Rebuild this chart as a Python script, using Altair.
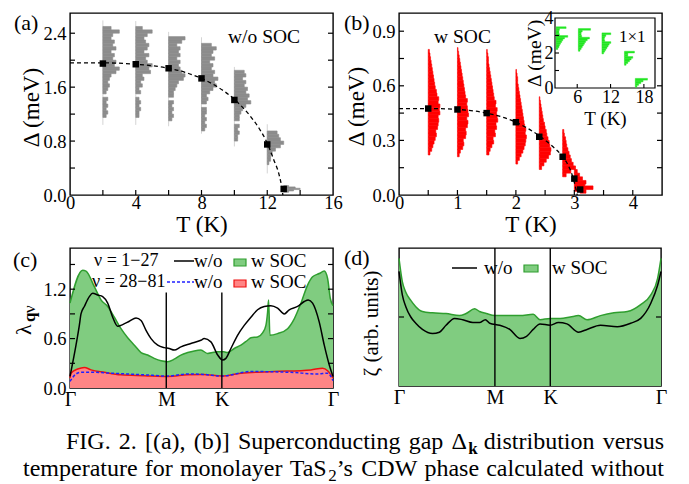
import altair as alt
import pandas as pd

FONT = "Liberation Serif"

# ===================== panel (a): w/o SOC =====================
a_T = [2, 4, 6, 8, 10, 12, 13]
a_gap = [1.95, 1.94, 1.88, 1.73, 1.41, 0.75, 0.09]
a_curve_T = [0, 2, 4, 6, 7, 8, 9, 10, 11, 11.5, 12, 12.4, 12.7, 12.85, 12.95]
a_curve_D = [1.96, 1.96, 1.94, 1.88, 1.82, 1.73, 1.60, 1.42, 1.16, 0.99, 0.77, 0.52, 0.32, 0.16, 0.0]
a_rng_T = [2, 4, 6, 8, 10, 12]
a_rng_lo = [1.04, 1.04, 1.02, 0.91, 0.72, 0.32]
a_rng_hi = [2.59, 2.58, 2.42, 2.34, 1.90, 1.05]
a_hist_lo = [1.15, 1.15, 1.10, 0.95, 0.80, 0.45, 0.04]
a_hist_bin = [0.05, 0.05, 0.05, 0.05, 0.05, 0.05, 0.02]
a_hist_w = [  # widths in 0.1 K
    [2, 3, 2, 3, 2, 3, 0, 2, 3, 4, 3, 4, 5, 8, 10, 7, 8, 6, 7, 5, 8, 6, 7, 5, 6, 10, 5],
    [2, 2, 3, 2, 3, 2, 0, 3, 2, 4, 3, 5, 4, 9, 8, 10, 7, 6, 8, 5, 7, 8, 6, 5, 7, 10, 4],
    [2, 3, 2, 3, 2, 3, 0, 3, 3, 4, 5, 6, 9, 10, 8, 7, 6, 7, 5, 7, 6, 7, 5, 8, 10],
    [2, 3, 2, 3, 2, 3, 3, 0, 3, 4, 3, 5, 7, 9, 8, 10, 7, 8, 6, 7, 5, 8, 6, 7, 9, 6],
    [2, 2, 3, 2, 3, 0, 3, 3, 4, 5, 7, 10, 8, 9, 7, 8, 6, 7, 5, 7, 6],
    [1, 2, 2, 3, 5, 8, 10, 8, 7, 6],
    [3, 6, 10, 7, 3],
]
a_xlabels = [0, 4, 8, 12, 16]
a_xticks = [2, 4, 6, 8, 10, 12, 14]
a_ylabels = [0.0, 0.8, 1.6, 2.4]
a_yticks = [0.4, 0.8, 1.2, 1.6, 2.0, 2.4]

# ===================== panel (b): w SOC =====================
b_T = [0.5, 1.0, 1.5, 2.0, 2.4, 2.8, 3.0, 3.1]
b_gap = [0.475, 0.47, 0.45, 0.40, 0.32, 0.21, 0.09, 0.03]
b_curve_T = [0, 0.5, 1.0, 1.5, 2.0, 2.4, 2.6, 2.8, 2.9, 3.0, 3.05]
b_curve_D = [0.475, 0.475, 0.47, 0.45, 0.40, 0.325, 0.275, 0.21, 0.16, 0.07, 0.0]
b_hist_lo = [0.22, 0.21, 0.22, 0.17, 0.14, 0.10, 0.02, 0.01]
b_hist_bin = [0.02] * 8
b_hist_w = [  # widths in 0.01 K
    [3, 6, 8, 10, 12, 14, 13, 16, 17, 18, 17, 20, 19, 20, 17, 18, 15, 14, 12, 11, 10, 9, 8, 7, 6, 5, 4, 3, 2],
    [3, 5, 9, 11, 10, 14, 15, 14, 17, 18, 16, 19, 18, 17, 16, 17, 14, 13, 12, 11, 10, 9, 8, 7, 6, 5, 4, 3, 2, 1],
    [4, 6, 9, 12, 11, 15, 14, 17, 16, 19, 18, 17, 18, 15, 16, 13, 12, 11, 10, 9, 8, 7, 6, 5, 4, 3, 3, 2, 1],
    [3, 6, 9, 12, 14, 16, 17, 18, 16, 17, 15, 14, 13, 12, 11, 10, 9, 8, 7, 6, 5, 4, 3, 3, 2, 1],
    [4, 8, 12, 16, 19, 20, 18, 17, 15, 13, 12, 10, 9, 7, 6, 5, 4, 3, 2, 1],
    [6, 14, 20, 18, 15, 13, 11, 9, 7, 6, 5, 3, 2],
    [8, 16, 20, 14, 9, 5, 2],
    [10, 22, 8],
]
b_xlabels = [0, 1, 2, 3, 4]
b_xticks = [0.5, 1, 1.5, 2, 2.5, 3, 3.5, 4]
b_ylabels = [0.0, 0.3, 0.6, 0.9]
b_yticks = [0.15, 0.3, 0.45, 0.6, 0.75, 0.9]

# inset (1x1)
in_T = [2.2, 6.2, 10.45, 14.5, 16.45]
in_lo = [2.2, 2.1, 1.95, 1.3, 0.05]
in_bin = [0.1, 0.1, 0.1, 0.1, 0.1]
in_w = [  # widths in K
    [0.3, 0.5, 0.6, 0.8, 1.0, 1.2, 1.5, 2.1, 0.6, 0.5, 0.5, 0.6, 1.8],
    [0.3, 0.5, 0.7, 0.9, 1.1, 1.3, 1.6, 2.0, 0.6, 0.5, 0.5, 0.7, 2.2],
    [0.3, 0.5, 0.7, 0.9, 1.1, 1.3, 1.6, 0.5, 0.4, 0.5, 0.7, 1.6],
    [0.3, 0.6, 0.9, 1.2, 1.5, 0.6, 0.6, 1.8],
    [0.3, 0.6, 1.0, 1.4, 2.2],
]
in_xlabels = [6, 12, 18]
in_ylabels = [0, 2, 4]
in_yticks = [1, 2, 3]

# ===================== panel (c): lambda_qv =====================
path_pos = [0.0, 0.5774, 0.9107, 1.5774]
path_lab = ["Γ", "M", "K", "Γ"]
c_gs = [0, 0.076, 0.096, 0.146, 0.186, 0.226, 0.266, 0.306, 0.346, 0.386, 0.426, 0.466, 0.505, 0.546, 0.586,
        0.625, 0.665, 0.706, 0.745, 0.785, 0.825, 0.886, 0.923, 0.945, 0.985, 1.025, 1.065, 1.085, 1.125, 1.155,
        1.175, 1.185, 1.191, 1.199, 1.245, 1.305, 1.345, 1.385, 1.425, 1.455, 1.495, 1.525, 1.545, 1.561, 1.5774]
c_gv = [1.03, 1.43, 1.42, 1.23, 1.07, 0.99, 0.86, 0.72, 0.61, 0.52, 0.43, 0.40, 0.36, 0.33, 0.32,
        0.35, 0.40, 0.43, 0.45, 0.46, 0.42, 0.44, 0.44, 0.43, 0.48, 0.52, 0.58, 0.61, 0.62, 0.67,
        0.76, 0.92, 1.07, 0.64, 0.66, 0.72, 0.84, 1.03, 1.25, 1.35, 1.39, 1.42, 1.33, 1.09, 1.0]
c_bs = [0, 0.036, 0.056, 0.066, 0.086, 0.116, 0.136, 0.166, 0.196, 0.226, 0.256, 0.286, 0.316, 0.356, 0.396,
        0.426, 0.456, 0.486, 0.526, 0.565, 0.595, 0.625, 0.665, 0.725, 0.785, 0.805, 0.845, 0.886, 0.915, 0.935,
        0.965, 1.005, 1.045, 1.085, 1.125, 1.165, 1.205, 1.245, 1.285, 1.315, 1.365, 1.405, 1.429, 1.455, 1.495,
        1.525, 1.555, 1.5774]
c_bv = [0.14, 0.52, 0.76, 0.90, 0.99, 1.11, 1.15, 1.13, 1.11, 1.03, 0.86, 0.75, 0.77, 0.81, 0.85,
        0.82, 0.70, 0.60, 0.52, 0.49, 0.48, 0.46, 0.50, 0.54, 0.58, 0.60, 0.56, 0.40, 0.34, 0.36,
        0.48, 0.64, 0.76, 0.86, 0.95, 0.99, 1.0, 0.97, 0.90, 0.95, 0.99, 1.05, 1.07, 1.03, 0.80,
        0.52, 0.28, 0.14]
c_rs = [0, 0.006, 0.046, 0.086, 0.126, 0.206, 0.306, 0.446, 0.586, 0.706, 0.80, 0.911, 1.025, 1.225, 1.445,
        1.515, 1.545, 1.5774]
c_rv = [0.12, 0.18, 0.23, 0.25, 0.22, 0.19, 0.16, 0.15, 0.14, 0.16, 0.165, 0.145, 0.18, 0.20, 0.22,
        0.24, 0.21, 0.12]
c_us = [0, 0.036, 0.066, 0.146, 0.246, 0.446, 0.586, 0.706, 0.80, 0.911, 1.085, 1.325, 1.485, 1.545, 1.5774]
c_uv = [0.08, 0.17, 0.19, 0.19, 0.18, 0.16, 0.145, 0.17, 0.165, 0.145, 0.20, 0.19, 0.17, 0.18, 0.09]
c_ylabels = [0.0, 0.6, 1.2]
c_yticks = [0.3, 0.6, 0.9, 1.2, 1.5]
c_line_top = 1.16

# ===================== panel (d): zeta =====================
d_gs = [0, 0.020, 0.041, 0.071, 0.101, 0.141, 0.202, 0.283, 0.364, 0.404, 0.455, 0.485, 0.526, 0.576, 0.647,
        0.728, 0.808, 0.849, 0.910, 0.970, 1.031, 1.081, 1.132, 1.213, 1.294, 1.375, 1.455, 1.516, 1.557, 1.5774]
d_gv = [0.925, 0.756, 0.68, 0.62, 0.575, 0.54, 0.53, 0.525, 0.51, 0.525, 0.56, 0.54, 0.525, 0.51, 0.51,
        0.51, 0.52, 0.48, 0.49, 0.49, 0.50, 0.51, 0.48, 0.51, 0.53, 0.54, 0.59, 0.66, 0.78, 0.925]
d_bs = [0, 0.020, 0.041, 0.071, 0.101, 0.141, 0.202, 0.243, 0.283, 0.334, 0.384, 0.445, 0.485, 0.520, 0.546,
        0.606, 0.667, 0.728, 0.768, 0.808, 0.849, 0.910, 0.960, 1.011, 1.081, 1.132, 1.213, 1.314, 1.395, 1.455,
        1.516, 1.557, 1.5774]
d_bv = [0.83, 0.66, 0.575, 0.50, 0.455, 0.41, 0.38, 0.39, 0.44, 0.49, 0.48, 0.46, 0.46, 0.48, 0.455,
        0.44, 0.41, 0.345, 0.36, 0.41, 0.45, 0.44, 0.46, 0.45, 0.39, 0.41, 0.44, 0.43, 0.455, 0.49,
        0.60, 0.73, 0.83]
d_yticks = [0.5]

# ===================== caption =====================
cap1_words = [["FIG."], ["2."], ["[(a),"], ["(b)]"], ["Superconducting"], ["gap"], ["Δ", "_bk"],
              ["distribution"], ["versus"]]
cap2_words = [["temperature"], ["for"], ["monolayer"], ["TaS", "_2", "’s"], ["CDW"], ["phase"],
              ["calculated"], ["without"]]

# ---------------------------------------------------------------
CW = {' ': 250, 'F': 556, 'I': 333, 'G': 722, '.': 250, '2': 500, '[': 333, '(': 333, 'a': 444, ')': 333,
      ',': 250, 'b': 500, ']': 333, 'S': 556, 'u': 500, 'p': 500, 'e': 444, 'r': 333, 'c': 444, 'o': 500,
      'n': 500, 'd': 500, 't': 278, 'i': 278, 'g': 500, 'Δ': 612, 'k': 556, 's': 389, 'v': 500, 'm': 778,
      'f': 333, 'l': 278, 'y': 500, 'T': 611, '’': 333, 'C': 667, 'D': 722, 'W': 944, 'h': 500, 'w': 722}
FS_CAP, FS_SUB = 24, 17


def seg_info(seg):
    if seg.startswith("_b"):
        return seg[2:], FS_SUB, "sb"
    if seg.startswith("_"):
        return seg[1:], FS_SUB, "s"
    return seg, FS_CAP, "n"


def tw(t, size):
    return sum(CW.get(ch, 500) for ch in t) * size / 1000.0


def layout_line(words, left, right, base, ox, oy):
    widths = []
    for w in words:
        widths.append(sum(tw(*seg_info(s)[:2]) for s in w))
    gap = (right - left - sum(widths)) / (len(words) - 1)
    rows = []
    x = left
    for w, wd in zip(words, widths):
        xx = x
        for s in w:
            t, size, kind = seg_info(s)
            dy = 5 if kind != "n" else 0
            rows.append({"px": xx - ox, "py": base + dy - oy, "t": t, "kind": kind})
            xx += tw(t, size) + (2 if kind == "n" and t == "Δ" else 0)
        x += wd + gap
    return rows


def hist_df(Ts, los, bins, widths, unit):
    rows = []
    for T, lo, b, ws in zip(Ts, los, bins, widths):
        for j, w in enumerate(ws):
            if w <= 0:
                continue
            rows.append({"T": T, "xe": T + w * unit, "y0": lo + j * b, "y1": lo + (j + 1) * b})
    return pd.DataFrame(rows)


def ticks_y(vals, scale, axis, w, L=5):
    df = pd.DataFrame({"v": vals})
    out = []
    for x1, x2 in [(0, L), (w - L, w)]:
        out.append(alt.Chart(df).mark_rule(color="black", strokeWidth=1.2).encode(
            y=alt.Y("v:Q", scale=scale, axis=axis), x=alt.value(x1), x2=alt.value(x2)))
    return out


def ticks_x(vals, scale, axis, h, L=5):
    df = pd.DataFrame({"v": vals})
    return alt.Chart(df).mark_rule(color="black", strokeWidth=1.2).encode(
        x=alt.X("v:Q", scale=scale, axis=axis), y=alt.value(h - L), y2=alt.value(h))


def txt(t, x, y, size, align="left", baseline="middle", **kw):
    return alt.Chart(pd.DataFrame({"t": [t]})).mark_text(
        text=t, fontSize=size, align=align, baseline=baseline, font=FONT, color="black", **kw
    ).encode(x=alt.value(x), y=alt.value(y))


def hbar(x1, x2, y, color="black", dash=None, sw=1.5):
    kw = {"strokeDash": dash} if dash else {}
    return alt.Chart(pd.DataFrame({"z": [0]})).mark_rule(color=color, strokeWidth=sw, **kw).encode(
        x=alt.value(x1), x2=alt.value(x2), y=alt.value(y))


def box(x1, x2, y1, y2, fill, stroke):
    return alt.Chart(pd.DataFrame({"z": [0]})).mark_rect(fill=fill, stroke=stroke, strokeWidth=1.2).encode(
        x=alt.value(x1), x2=alt.value(x2), y=alt.value(y1), y2=alt.value(y2))


W1, H1 = 263, 182
W2, H2 = 263, 140

# ------------------------- (a) -------------------------
xa = alt.Scale(domain=[0, 16], nice=False, zero=False)
ya = alt.Scale(domain=[0, 2.7], nice=False, zero=False)
axa_x = alt.Axis(values=a_xlabels, format="d", title="T (K)", labelPadding=-2, labelFlush=False,
                 titleX=W1 / 2, titleY=29, titleBaseline="middle", titleAlign="center")
axa_y = alt.Axis(values=a_ylabels, format=".1f", title="Δ (meV)", labelPadding=4,
                 titleX=-39, titleY=94, titleBaseline="middle", titleAlign="center", titleAngle=270)
df_a_rng = pd.DataFrame({"T": a_rng_T, "lo": a_rng_lo, "hi": a_rng_hi})
df_a_hist = hist_df(a_T, a_hist_lo, a_hist_bin, a_hist_w, 0.1)
df_a_curve = pd.DataFrame({"T": a_curve_T, "D": a_curve_D})
df_a_pts = pd.DataFrame({"T": a_T, "D": a_gap})

a_layers = [
    alt.Chart(pd.DataFrame({"z": [0]})).mark_rule(color="white").encode(
        x=alt.value(-60.5), x2=alt.value(-60.5), y=alt.value(0), y2=alt.value(2)),
    alt.Chart(df_a_rng).mark_rule(color="#d4d4d4", strokeWidth=1).encode(
        x=alt.X("T:Q", scale=xa, axis=axa_x), y=alt.Y("lo:Q", scale=ya, axis=axa_y), y2="hi:Q"),
    alt.Chart(df_a_hist).mark_rect(color="#8c8c8c", stroke="#8c8c8c", strokeWidth=0.6).encode(
        x=alt.X("T:Q", scale=xa, axis=axa_x), x2="xe:Q", y=alt.Y("y0:Q", scale=ya, axis=axa_y), y2="y1:Q"),
    alt.Chart(df_a_curve).mark_line(color="black", strokeDash=[4, 3], strokeWidth=1.3, interpolate="monotone").encode(
        x=alt.X("T:Q", scale=xa, axis=axa_x), y=alt.Y("D:Q", scale=ya, axis=axa_y)),
    alt.Chart(df_a_pts).mark_square(size=42, color="black", opacity=1).encode(
        x=alt.X("T:Q", scale=xa, axis=axa_x), y=alt.Y("D:Q", scale=ya, axis=axa_y)),
    *ticks_y(a_yticks, ya, axa_y, W1),
    ticks_x(a_xticks, xa, axa_x, H1),
    txt("(a)", -56, 0, 22, baseline="top"),
    txt("w/o SOC", 158, 24, 19.5),
]
panel_a = alt.layer(*a_layers).properties(width=W1, height=H1)

# ------------------------- (b) -------------------------
xb = alt.Scale(domain=[0, 4.5], nice=False, zero=False)
yb = alt.Scale(domain=[0, 1.0], nice=False, zero=False)
axb_x = alt.Axis(values=b_xlabels, format="d", title="T (K)", labelPadding=-2, labelFlush=False,
                 titleX=W1 / 2, titleY=29, titleBaseline="middle", titleAlign="center")
axb_y = alt.Axis(values=b_ylabels, format=".1f", title="Δ (meV)", labelPadding=4,
                 titleX=-43, titleY=93, titleBaseline="middle", titleAlign="center", titleAngle=270)
df_b_hist = hist_df(b_T, b_hist_lo, b_hist_bin, b_hist_w, 0.01)
df_b_curve = pd.DataFrame({"T": b_curve_T, "D": b_curve_D})
df_b_pts = pd.DataFrame({"T": b_T, "D": b_gap})
b_main = alt.layer(
    alt.Chart(df_b_hist).mark_rect(color="#ff0000", stroke="#ff0000", strokeWidth=0.6).encode(
        x=alt.X("T:Q", scale=xb, axis=axb_x), x2="xe:Q", y=alt.Y("y0:Q", scale=yb, axis=axb_y), y2="y1:Q"),
    alt.Chart(df_b_curve).mark_line(color="black", strokeDash=[4, 3], strokeWidth=1.3, interpolate="monotone").encode(
        x=alt.X("T:Q", scale=xb, axis=axb_x), y=alt.Y("D:Q", scale=yb, axis=axb_y)),
    alt.Chart(df_b_pts).mark_square(size=42, color="black", opacity=1).encode(
        x=alt.X("T:Q", scale=xb, axis=axb_x), y=alt.Y("D:Q", scale=yb, axis=axb_y)),
    *ticks_y(b_yticks, yb, axb_y, W1),
    ticks_x(b_xticks, xb, axb_x, H1),
    txt("(b)", -55, 0, 22, baseline="top"),
    txt("w SOC", 35, 24, 19.5),
)

isx = alt.Scale(domain=[2, 20], range=[156, 256], nice=False, zero=False)
isy = alt.Scale(domain=[0, 4], range=[75, 5], nice=False, zero=False)
iax_x = alt.Axis(orient="bottom", offset=-(H1 - 75), values=in_xlabels, format="d", title="T (K)",
                 labelPadding=0, labelFlush=False, labelFontSize=18, titleFontSize=19,
                 titleX=206, titleY=30, titleBaseline="middle", titleAlign="center")
iax_y = alt.Axis(orient="left", offset=-156, values=in_ylabels, format="d", title="Δ (meV)",
                 labelPadding=2, labelFontSize=18, titleFontSize=19.5,
                 titleX=-21, titleY=40, titleBaseline="middle", titleAlign="center", titleAngle=270)
df_in_hist = hist_df(in_T, in_lo, in_bin, in_w, 1.0)
b_inset = alt.layer(
    alt.Chart(pd.DataFrame({"x0": [2], "x1": [20], "y0": [0], "y1": [4]})).mark_rect(
        fill="white", stroke="black", strokeWidth=1.2).encode(
        x=alt.X("x0:Q", scale=isx, axis=iax_x), x2="x1:Q", y=alt.Y("y0:Q", scale=isy, axis=iax_y), y2="y1:Q"),
    alt.Chart(df_in_hist).mark_rect(color="#22e622", stroke="#22e622", strokeWidth=0.4).encode(
        x=alt.X("T:Q", scale=isx, axis=iax_x), x2="xe:Q", y=alt.Y("y0:Q", scale=isy, axis=iax_y), y2="y1:Q"),
    alt.Chart(pd.DataFrame({"v": in_yticks})).mark_rule(color="black", strokeWidth=1.1).encode(
        y=alt.Y("v:Q", scale=isy, axis=iax_y), x=alt.value(156), x2=alt.value(160)),
    alt.Chart(pd.DataFrame({"v": in_xlabels})).mark_rule(color="black", strokeWidth=1.1).encode(
        x=alt.X("v:Q", scale=isx, axis=iax_x), y=alt.value(71), y2=alt.value(75)),
    txt("1×1", 220, 24, 17),
)
panel_b = alt.layer(b_main, b_inset).resolve_scale(x="independent", y="independent").properties(
    width=W1, height=H1)

# ------------------------- (c) -------------------------
def path_expr():
    expr = "'" + path_lab[-1] + "'"
    for pos, lab in reversed(list(zip(path_pos[:-1], path_lab[:-1]))):
        expr = f"datum.value < {pos + 0.05} ? '{lab}' : ({expr})"
    return expr


xc = alt.Scale(domain=[0, path_pos[-1]], nice=False, zero=False)
yc = alt.Scale(domain=[0, 1.7], nice=False, zero=False)
axc_x = alt.Axis(values=path_pos, labelExpr=path_expr(), title=None, labelPadding=1, labelFontSize=20,
                 labelFlush=False, labelOverlap=False)
axc_y = alt.Axis(values=c_ylabels, format=".1f", title=None, labelPadding=4)

cap_rows = layout_line(cap1_words, 65, 663, 444, 69, 243) + layout_line(cap2_words, 22, 663, 471, 69, 243)
df_cap = pd.DataFrame(cap_rows)


def cap_layer(kind, size, weight):
    return alt.Chart(df_cap[df_cap["kind"] == kind]).mark_text(
        fontSize=size, fontWeight=weight, align="left", baseline="alphabetic", font=FONT, color="black"
    ).encode(x=alt.X("px:Q", scale=None, axis=None), y=alt.Y("py:Q", scale=None, axis=None), text="t:N")


c_layers = [
    alt.Chart(pd.DataFrame({"s": c_gs, "v": c_gv})).mark_area(
        color="#80cc80", opacity=1, interpolate="monotone",
        line={"color": "#2f9e2f", "strokeWidth": 1.5}).encode(
        x=alt.X("s:Q", scale=xc, axis=axc_x), y=alt.Y("v:Q", scale=yc, axis=axc_y)),
    alt.Chart(pd.DataFrame({"s": c_rs, "v": c_rv})).mark_area(
        color="#ff8585", opacity=1, interpolate="monotone",
        line={"color": "#ee1111", "strokeWidth": 1.5}).encode(
        x=alt.X("s:Q", scale=xc, axis=axc_x), y=alt.Y("v:Q", scale=yc, axis=axc_y)),
    alt.Chart(pd.DataFrame({"s": c_bs, "v": c_bv})).mark_line(
        color="black", strokeWidth=1.5, interpolate="monotone").encode(
        x=alt.X("s:Q", scale=xc, axis=axc_x), y=alt.Y("v:Q", scale=yc, axis=axc_y)),
    alt.Chart(pd.DataFrame({"s": c_us, "v": c_uv})).mark_line(
        color="#2020ff", strokeWidth=1.5, strokeDash=[3, 2], interpolate="monotone").encode(
        x=alt.X("s:Q", scale=xc, axis=axc_x), y=alt.Y("v:Q", scale=yc, axis=axc_y)),
    alt.Chart(pd.DataFrame({"s": path_pos[1:3], "lo": [0, 0], "hi": [c_line_top] * 2})).mark_rule(
        color="black", strokeWidth=1.4).encode(
        x=alt.X("s:Q", scale=xc, axis=axc_x), y=alt.Y("lo:Q", scale=yc, axis=axc_y), y2="hi:Q"),
    *ticks_y(c_yticks, yc, axc_y, W2),
    txt("(c)", -57, 2, 22, baseline="top"),
    txt("λ", -39, 87, 22, baseline="alphabetic", angle=270),
    txt("q", -35, 74, 17, baseline="alphabetic", angle=270, fontWeight="bold"),
    txt("ν", -35, 65, 17, baseline="alphabetic", angle=270),
    txt("ν = 1−27", 24, 13, 18),
    hbar(104, 124, 13),
    txt("w/o", 124, 13, 19),
    box(164, 176, 11, 18, "#80cc80", "#2f9e2f"),
    txt("w SOC", 181, 13, 19),
    txt("ν = 28−81", 22, 34, 18),
    hbar(97, 124, 34, color="#2020ff", dash=[3, 2]),
    txt("w/o", 124, 34, 19),
    box(164, 176, 32, 39, "#ff8585", "#ee1111"),
    txt("w SOC", 181, 34, 19),
    cap_layer("n", FS_CAP, "normal"),
    cap_layer("s", FS_SUB, "normal"),
    cap_layer("sb", FS_SUB, "bold"),
]
panel_c = alt.layer(*c_layers).properties(width=W1, height=H2)

# ------------------------- (d) -------------------------
yd = alt.Scale(domain=[0, 1], nice=False, zero=False)
W4 = 262
H4 = 138
axd_y = alt.Axis(labels=False, title="ζ (arb. units)", titleFontSize=21,
                 titleX=-28, titleY=75, titleBaseline="middle", titleAlign="center", titleAngle=270)
d_layers = [
    alt.Chart(pd.DataFrame({"s": d_gs, "v": d_gv})).mark_area(
        color="#80cc80", opacity=1, interpolate="monotone",
        line={"color": "#2f9e2f", "strokeWidth": 1.5}).encode(
        x=alt.X("s:Q", scale=xc, axis=axc_x), y=alt.Y("v:Q", scale=yd, axis=axd_y)),
    alt.Chart(pd.DataFrame({"s": d_bs, "v": d_bv})).mark_line(
        color="black", strokeWidth=1.5, interpolate="monotone").encode(
        x=alt.X("s:Q", scale=xc, axis=axc_x), y=alt.Y("v:Q", scale=yd, axis=axd_y)),
    alt.Chart(pd.DataFrame({"s": path_pos[1:3], "lo": [0, 0], "hi": [1, 1]})).mark_rule(
        color="black", strokeWidth=1.4).encode(
        x=alt.X("s:Q", scale=xc, axis=axc_x), y=alt.Y("lo:Q", scale=yd, axis=axd_y), y2="hi:Q"),
    *ticks_y(d_yticks, yd, axd_y, W4),
    txt("(d)", -55, 0, 22, baseline="top"),
    hbar(53, 78, 20),
    txt("w/o", 85, 20, 19),
    box(125, 139, 17, 24, "#80cc80", "#2f9e2f"),
    txt("w SOC", 153, 20, 19),
]
panel_d = alt.layer(*d_layers).properties(width=W4, height=H4)

chart = alt.concat(panel_a, panel_b, panel_c, panel_d, columns=2,
                   spacing={"row": 53, "column": 66}, bounds="flush").properties(
    padding=0, background="white"
).configure_axis(
    labelFont=FONT, titleFont=FONT, labelFontSize=18.5, titleFontSize=23, labelColor="black",
    titleColor="black", titleFontWeight="normal", grid=False, domain=False, ticks=False, tickSize=0
).configure_text(font=FONT).configure_view(stroke="black", strokeWidth=1.4)

chart.save("out.html", embed_options={"renderer": "svg", "actions": False})
